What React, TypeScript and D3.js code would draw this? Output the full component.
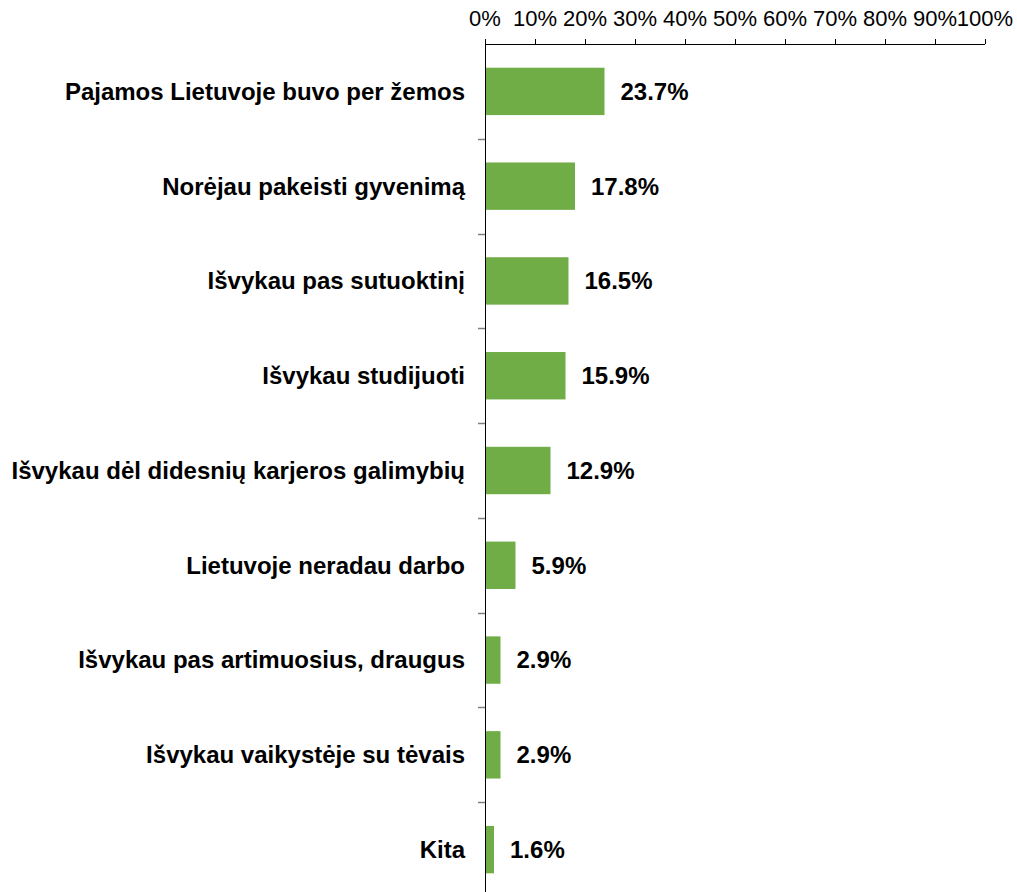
import React from "react";
import * as d3 from "d3";

const categories = [
  "Pajamos Lietuvoje buvo per žemos",
  "Norėjau pakeisti gyvenimą",
  "Išvykau pas sutuoktinį",
  "Išvykau studijuoti",
  "Išvykau dėl didesnių karjeros galimybių",
  "Lietuvoje neradau darbo",
  "Išvykau pas artimuosius, draugus",
  "Išvykau vaikystėje su tėvais",
  "Kita",
];
const values = [23.7, 17.8, 16.5, 15.9, 12.9, 5.9, 2.9, 2.9, 1.6];
const xTicks = [0, 10, 20, 30, 40, 50, 60, 70, 80, 90, 100];

const W = 1017;
const H = 892;
const left = 485;
const right = 985;
const top = 44;
const bottom = 897;
const font = "'Liberation Sans', Arial, sans-serif";

export default function App() {
  const x = d3.scaleLinear().domain([0, 100]).range([left, right]);
  const y = d3
    .scaleBand<string>()
    .domain(categories)
    .range([top, bottom])
    .paddingInner(0.5)
    .paddingOuter(0.25);
  const step = y.step();

  return (
    <svg
      width={W}
      height={H}
      style={{ position: "absolute", left: 0, top: 0, background: "#fff" }}
      fontFamily={font}
    >
      {/* top axis */}
      <line x1={left} x2={right} y1={top + 0.5} y2={top + 0.5} stroke="#000" strokeWidth={1} />
      {xTicks.map((t) => (
        <g key={t}>
          <line
            x1={Math.round(x(t)) + 0.5}
            x2={Math.round(x(t)) + 0.5}
            y1={top - 5}
            y2={top}
            stroke="#000"
          />
          <text x={x(t)} y={26} textAnchor="middle" fontSize={22} fill="#000">
            {t}%
          </text>
        </g>
      ))}
      {/* left axis */}
      <line x1={left + 0.5} x2={left + 0.5} y1={top - 5} y2={H} stroke="#000" strokeWidth={1} />
      {d3.range(1, categories.length).map((k) => {
        const yy = Math.round(top + k * step) + 0.5;
        return <line key={k} x1={left - 7} x2={left} y1={yy} y2={yy} stroke="#808080" strokeWidth={1.5} />;
      })}
      {/* bars */}
      {categories.map((c, i) => {
        const by = y(c)!;
        const bh = y.bandwidth();
        const w = x(values[i]) - x(0);
        return (
          <g key={c}>
            <rect x={left + 1} y={by} width={w} height={bh} fill="#70AD47" />
            <text
              x={465}
              y={by + bh / 2}
              dy="0.35em"
              textAnchor="end"
              fontSize={24}
              fontWeight="bold"
              fill="#000"
            >
              {c}
            </text>
            <text
              x={x(values[i]) + 17}
              y={by + bh / 2}
              dy="0.35em"
              textAnchor="start"
              fontSize={24}
              fontWeight="bold"
              fill="#000"
            >
              {values[i].toFixed(1)}%
            </text>
          </g>
        );
      })}
    </svg>
  );
}
